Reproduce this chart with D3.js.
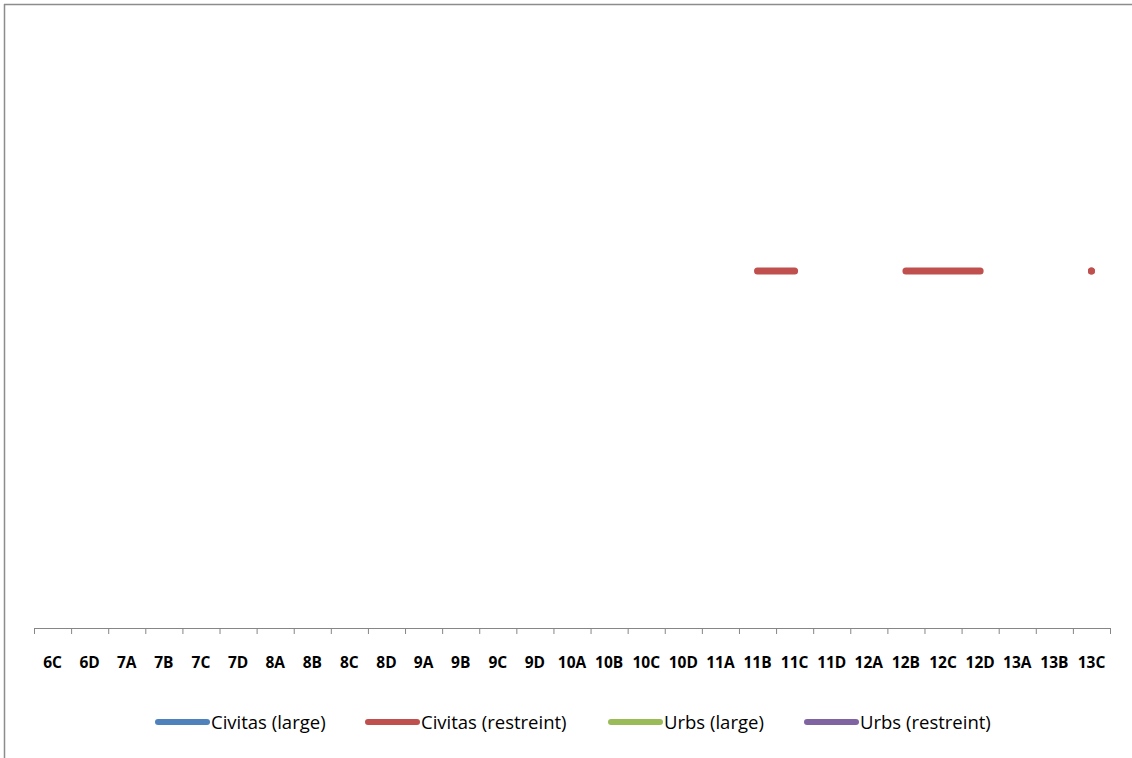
<!DOCTYPE html>
<html><head><meta charset="utf-8">
<script src="https://cdn.jsdelivr.net/npm/d3@7"></script>
<style>body{margin:0;background:#fff;overflow:hidden}svg{display:block}</style>
</head><body><svg id="c" width="1132" height="758"></svg>
<script>
const categories = ["6C","6D","7A","7B","7C","7D","8A","8B","8C","8D","9A","9B","9C","9D","10A","10B","10C","10D","11A","11B","11C","11D","12A","12B","12C","12D","13A","13B","13C"];
const seriesNames = ["Civitas (large)","Civitas (restreint)","Urbs (large)","Urbs (restreint)"];
const seriesColors = ["#4F81BD","#C0504D","#9BBB59","#8064A2"];
const civitasLarge = categories.map(() => null);
const civitasRestreint = [null,null,null,null,null,null,null,null,null,null,null,null,null,null,null,null,null,null,null,3,3,null,null,3,3,3,null,null,3];
const urbsLarge = categories.map(() => null);
const urbsRestreint = categories.map(() => null);
const seriesValues = [civitasLarge, civitasRestreint, urbsLarge, urbsRestreint];

const svg = d3.select("#c");
const font = "'Open Sans', Lato, sans-serif";

svg.append("line").attr("x1",4).attr("x2",1132).attr("y1",4.5).attr("y2",4.5).attr("stroke","#8c8c8c").attr("stroke-width",1.5);
svg.append("line").attr("x1",4.5).attr("x2",4.5).attr("y1",4).attr("y2",758).attr("stroke","#8c8c8c").attr("stroke-width",1.5);

const x = d3.scaleBand().domain(categories).range([34,1110]);
const y = d3.scaleLinear().domain([0,5]).range([628,33]);

const axis = d3.axisBottom(x).tickSize(6).tickSizeOuter(6).tickPadding(0);
const gx = svg.append("g").attr("transform","translate(0,628)").call(axis);
gx.select(".domain").attr("stroke","#868686");
gx.selectAll(".tick line").remove();
const bounds = d3.range(categories.length+1).map(i => 34 + i*x.step());
gx.selectAll("line.b").data(bounds).join("line").attr("class","b")
  .attr("x1",d=>d+0.5).attr("x2",d=>d+0.5).attr("y1",0).attr("y2",6).attr("stroke","#868686");
gx.selectAll(".tick text").attr("y",40).attr("dy",0).attr("font-family",font)
  .attr("font-size",15.5).attr("font-weight","bold").attr("fill","#000");

seriesValues.forEach((vals, si) => {
  const pts = categories.map((c,i)=>({c, v: vals[i]}));
  const line = d3.line().defined(d=>d.v!=null).x(d=>x(d.c)+x.bandwidth()/2).y(d=>y(d.v));
  svg.append("path").datum(pts).attr("d",line).attr("fill","none")
    .attr("stroke",seriesColors[si]).attr("stroke-width",7).attr("stroke-linecap","round").attr("stroke-linejoin","round");
  pts.forEach((d,i)=>{
    if(d.v!=null && (i===0||pts[i-1].v==null) && (i===pts.length-1||pts[i+1].v==null)){
      svg.append("circle").attr("cx",x(d.c)+x.bandwidth()/2).attr("cy",y(d.v)).attr("r",3.5).attr("fill",seriesColors[si]);
    }
  });
});

const legX = [155, 365, 608, 804];
const lg = svg.append("g");
seriesNames.forEach((n,i)=>{
  lg.append("line").attr("x1",legX[i]+3).attr("x2",legX[i]+52).attr("y1",722).attr("y2",722)
    .attr("stroke",seriesColors[i]).attr("stroke-width",6).attr("stroke-linecap","round");
  lg.append("text").attr("x",legX[i]+56).attr("y",729).attr("font-family",font).attr("font-size",18.5)
    .attr("fill","#000").text(n);
});
</script></body></html>
